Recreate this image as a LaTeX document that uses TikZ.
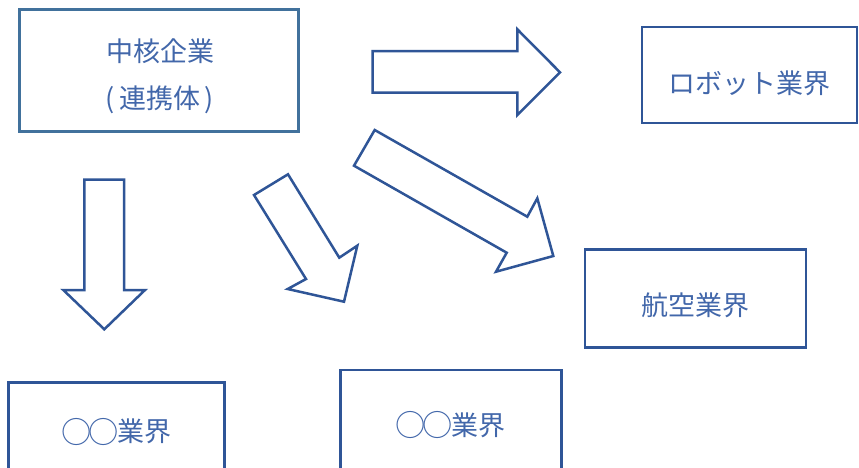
\documentclass[tikz,border=0pt]{standalone}
\usepackage{fontspec}
\usepackage{graphicx}
\newfontfamily\jp{Noto Sans CJK JP}
\definecolor{boxblue}{HTML}{2F5597}
\definecolor{topblue}{HTML}{41719C}
\definecolor{txtblue}{HTML}{4267AA}
\newcommand{\marucirc}{\makebox[27pt]{\raisebox{-1.5pt}{\scalebox{1.12}{○}}}}
\tikzset{
  boxnode/.style={draw=boxblue, line width=2.5pt, rectangle, inner sep=0pt, fill=white},
  labeltext/.style={text=txtblue, font=\jp\fontsize{27}{47.5}\selectfont, inner sep=0pt, align=center},
  blockarrow/.style={draw=boxblue, line width=2.5pt, line join=miter, fill=white}
}
\begin{document}
\begin{tikzpicture}[x=1pt,y=-1pt]
\useasboundingbox (0,0) rectangle (859,467);
\clip (0,0) rectangle (859,467);
\fill[white] (0,0) rectangle (859,467);

% boxes
\node[boxnode, draw=topblue, line width=3pt, minimum width=279pt, minimum height=121.5pt] (core) at (158.5,70.25) {};
\node[boxnode, minimum width=215pt, minimum height=96pt] (robot) at (749.5,75) {};
\node[boxnode, minimum width=221pt, minimum height=98.4pt] (aero) at (695.5,298.5) {};
\node[boxnode, minimum width=215.6pt, minimum height=130pt] (indA) at (116.5,447.3) {};
\node[boxnode, minimum width=220.6pt, minimum height=130pt] (indB) at (451,435) {};

% texts
\node[labeltext] (coretext) at (160,76.25) {中核企業\\(\,連携体\,)};
\node[labeltext] (robottext) at (749,83) {ロボット業界};
\node[labeltext] (aerotext) at (695,305) {航空業界};
\node[labeltext] (indAtext) at (117.5,431.7) {\marucirc\marucirc 業界};
\node[labeltext] (indBtext) at (451.3,425) {\marucirc\marucirc 業界};

% block arrows
\draw[blockarrow] (372.7,51) -- (517.3,51) -- (517.3,29.3) -- (560,72.3)
  -- (517.3,115) -- (517.3,92.7) -- (372.7,92.7) -- cycle;
\draw[blockarrow] (84.3,179.7) -- (124,179.7) -- (124,290) -- (145,290)
  -- (104.3,329.3) -- (63.3,290) -- (84.3,290) -- cycle;
\draw[blockarrow] (254,195) -- (288,174.3) -- (339.3,257.7) -- (357.3,245.7)
  -- (344,301.7) -- (287.7,289) -- (306,279) -- cycle;
\draw[blockarrow] (354,165.7) -- (374.7,130) -- (527.3,216.7) -- (537.3,198.3)
  -- (553.3,256) -- (496,271.7) -- (506.7,252.7) -- cycle;
\end{tikzpicture}
\end{document}
